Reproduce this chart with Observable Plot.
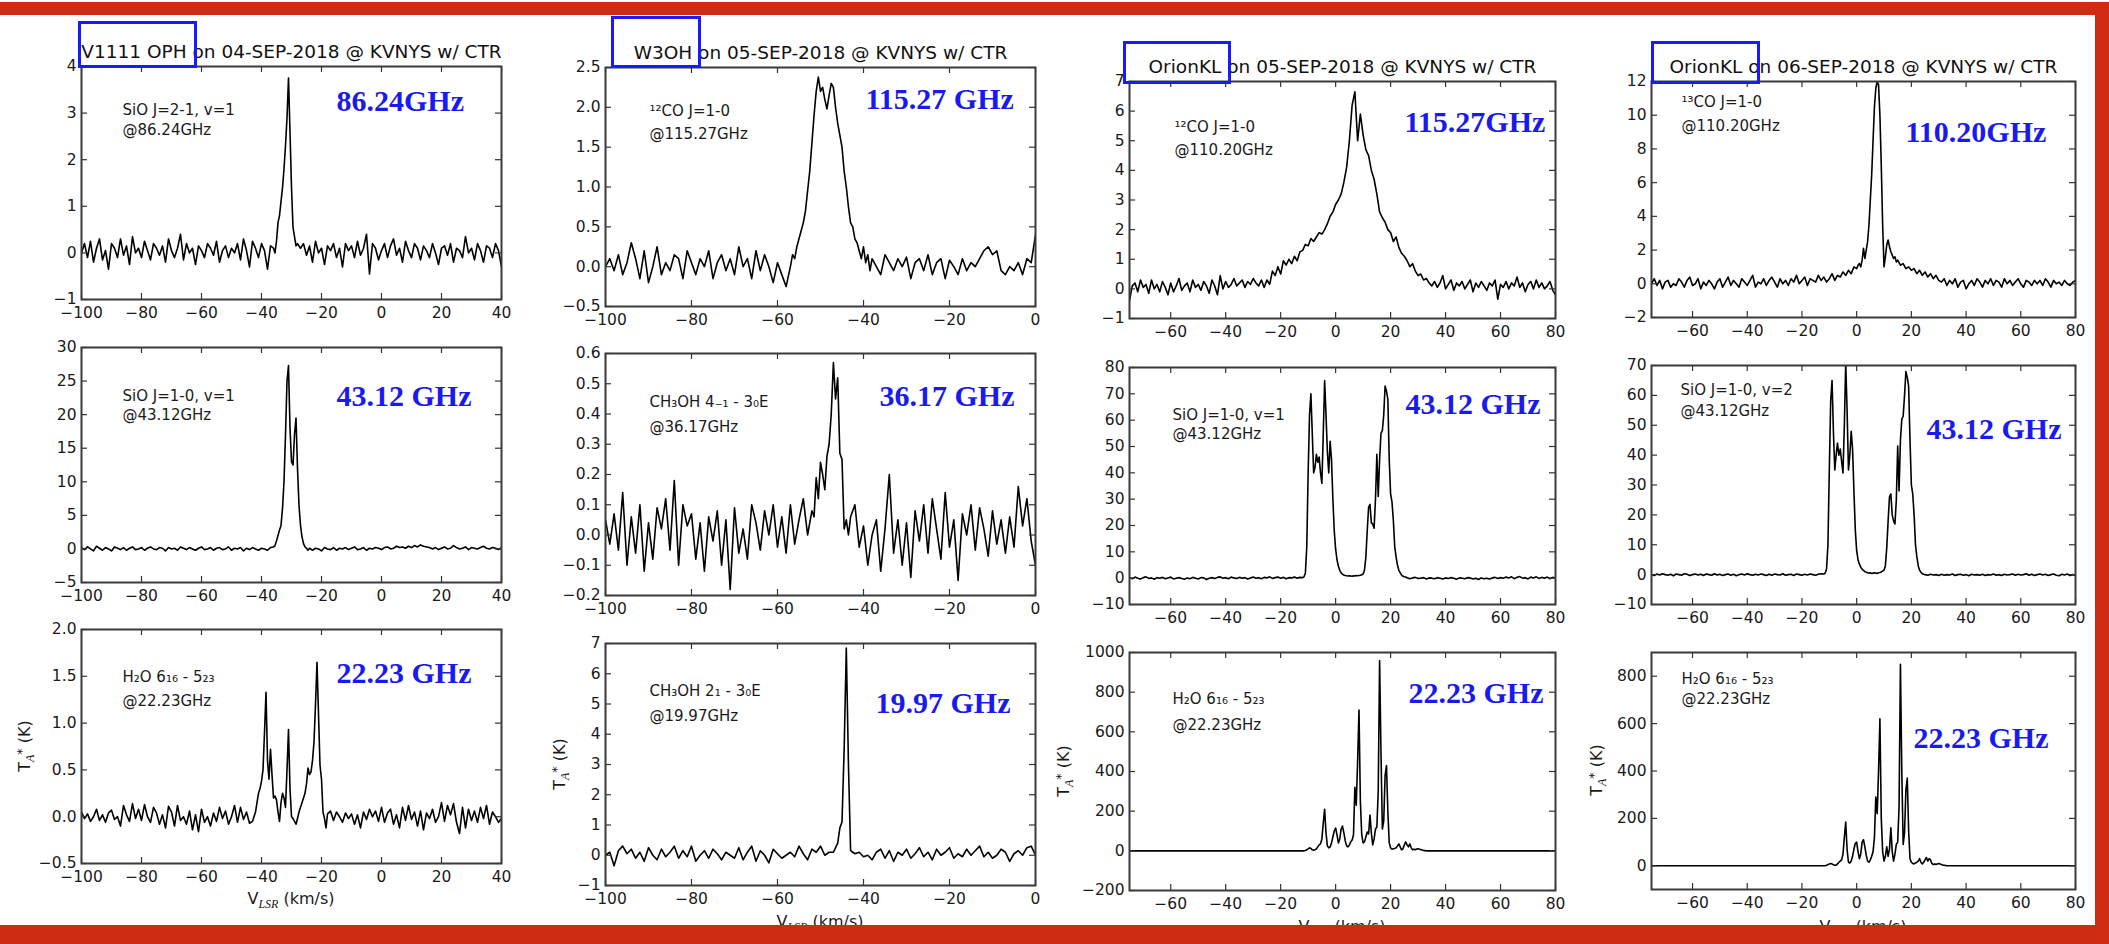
<!DOCTYPE html>
<html><head><meta charset="utf-8">
<script src="https://cdn.jsdelivr.net/npm/d3@7"></script>
<script src="https://cdn.jsdelivr.net/npm/@observablehq/plot@0.6"></script>
<style>
html,body{margin:0;padding:0;background:#fff}
body{width:2109px;height:944px;overflow:hidden;position:relative;font-family:"DejaVu Sans",sans-serif;color:#1a1a1a}
.panel{position:absolute}
.box{position:absolute;border:3px solid #1a1aff;box-sizing:border-box}
.xlab,.ylab{position:absolute;font-size:16px;line-height:16px;white-space:nowrap;color:#1a1a1a}
.xlab{transform:translateX(-50%)}
.ylab{transform:translate(-50%,-50%) rotate(-90deg)}
.xlab sub,.ylab sub{font-family:"Liberation Serif",serif;font-style:italic;font-size:0.75em;vertical-align:-0.3em}
.ylab sup{font-size:0.8em;vertical-align:0.35em}
.red{position:absolute;background:#cf2a12}
</style></head><body>
<div id="root"></div>
<script>
// ---------------- DATA (velocity runs: [start km/s, step km/s, T_A* values]) ----------------
const v1111_SiO86 = [
 [-100, 1, [0.0,0.2,-0.1,0.25,-0.2,0.1,0.3,-0.15,0.05,-0.35, 0.2,0.1,-0.1,0.3,-0.05,0.15,-0.25,0.35,0.0,0.1,
  -0.1,0.25,0.05,-0.15,0.2,0.1,-0.05,0.15,-0.2,0.3, 0.05,-0.1,0.1,0.4,-0.15,0.2,0.0,0.1,-0.25,0.15,
  0.05,-0.1,0.2,0.1,-0.05,0.25,-0.2,0.05,0.15,-0.1, 0.1,0.0,0.2,-0.15,0.3,0.05,-0.3,0.25,0.1,-0.1, 0.2,0.05,-0.35,0.15]],
 [-36, 0.5, [0.1,0.0,0.25,0.65,0.8,1.1,1.4,1.8,2.3,2.9,3.75,2.6,1.4,0.55,0.35,0.15,0.2]],
 [-27, 1, [0.1,0.2,-0.05,0.15,-0.2,0.25,0.0,0.1,-0.25,0.15, 0.05,0.2,-0.1,0.1,-0.3,0.2,0.05,0.15,-0.1,0.25,
  -0.05,0.1,0.4,-0.45,0.2,0.1,-0.15,0.05,0.2,-0.1, 0.15,0.3,-0.05,0.1,-0.2,0.25,0.05,-0.1,0.2,0.1,
  -0.15,0.15,0.05,-0.1,0.2,0.0,-0.25,0.1,0.15,-0.05, 0.2,-0.2,0.1,0.05,-0.1,0.35,0.0,0.1,-0.15,0.2, 0.05,-0.2,0.15,0.1,-0.1,0.2,0.05,-0.3]]
];
const v1111_SiO43 = [
 [-100, 1, [0.2,-0.1,0.3,0.0,-0.3,0.4,0.1,-0.2,0.2,0.0, -0.3,0.3,0.1,-0.1,0.2,-0.2,0.1,0.3,-0.1,0.0,
  0.2,-0.2,0.1,0.3,0.0,-0.1,0.2,0.1,-0.3,0.2, 0.0,0.1,-0.2,0.3,0.1,-0.1,0.2,0.0,-0.2,0.1,
  0.3,-0.1,0.0,0.2,-0.2,0.1,0.2,-0.1,0.0,0.3, -0.2,0.1,0.0,0.2,-0.3,0.1,-0.1,0.2,0.0,-0.2, 0.1,0.0,-0.2,0.2]],
 [-36, 0.5, [0.3,0.5,1.2,2.0,2.8,3.5,6,10,17,25,27.3,18,13,12.5,17,19.5,12,6.5,3.5,1.8,0.8,0.3,0.1,-0.2,0.1]],
 [-23, 1, [-0.2,0.1,0.0,-0.3,0.2,0.0,-0.1,0.2,-0.2,0.1, 0.0,0.2,-0.1,0.1,0.3,-0.1,0.0,0.2,-0.2,0.1,
  0.0,0.2,0.1,-0.1,0.2,0.3,0.0,0.1,0.4,0.2, 0.3,0.1,0.4,0.2,0.5,0.3,0.6,0.4,0.3,0.2,
  0.0,0.2,-0.1,0.1,0.3,0.0,0.1,0.5,0.2,0.0, 0.1,0.3,-0.1,0.2,0.1,0.0,0.2,0.4,0.1,0.0, 0.2,0.1,-0.1,0.2]]
];
const v1111_H2O22 = [
 [-100, 1, [0.05,-0.02,0.03,-0.05,0.0,0.08,-0.04,0.02,-0.06,0.04, 0.07,-0.03,0.0,-0.1,0.12,0.02,-0.05,0.14,-0.02,0.08,
  -0.04,0.13,0.0,-0.06,0.1,0.04,-0.08,0.02,-0.12,0.11, 0.05,-0.1,0.12,-0.04,0.0,-0.08,0.06,-0.14,0.02,-0.16,
  0.08,-0.06,0.0,-0.1,0.04,-0.05,0.1,-0.02,0.06,-0.08, 0.0,0.12,-0.06,0.1,-0.03,0.05,-0.07]],
 [-43, 0.5, [-0.05,0.0,0.05,0.15,0.25,0.3,0.38,0.5,0.9,1.33, 0.6,0.4,0.72,0.45,0.2,0.22,0.18,0.05,-0.05,0.15,
  0.25,0.2,0.1,0.5,0.93,0.3,0.0,-0.02,-0.05,-0.08, -0.02,0.05,0.1,0.15,0.2,0.25,0.35,0.52,0.45,0.48,
  0.6,0.8,1.2,1.65,1.1,0.55,0.4,0.05,-0.02,-0.12, 0.03]],
 [-17, 1, [0.06,-0.04,0.05,0.0,-0.06,0.04,-0.02,0.03,-0.08,0.02, -0.12,0.05,-0.03,0.08,0.0,0.06,-0.05,0.1,-0.06,0.04,
  0.08,-0.08,0.02,-0.12,0.1,-0.04,0.12,-0.03,0.05,-0.1, 0.06,-0.14,0.04,-0.02,0.08,-0.06,0.0,0.15,-0.05,0.12,
  0.02,0.14,-0.06,-0.18,0.1,-0.12,0.08,-0.04,0.06,-0.06, 0.1,-0.02,0.12,-0.08,0.05,0.0,-0.06,-0.02]]
];
const w3oh_CO115 = [
 [-100, 1, [0.0,0.1,-0.05,0.15,-0.1,0.05,0.3,0.1,-0.15,0.2, -0.2,0.0,0.25,-0.1,0.05,-0.05,0.15,0.1,-0.15,0.2,
  0.05,-0.1,0.1,0.0,0.2,-0.15,0.05,0.15,-0.05,0.1, -0.1,0.25,0.0,0.1,-0.15,0.2,-0.05,0.15,0.0,-0.2, 0.05,-0.1,-0.25]],
 [-57, 0.5, [0.0,0.15,0.1,0.25,0.35,0.45,0.55,0.7,0.95,1.2, 1.55,1.9,2.2,2.38,2.2,2.25,2.1,1.98,2.15,2.3,
  2.25,2.0,1.8,1.65,1.5,1.2,1.0,0.75,0.55,0.5, 0.35,0.3,0.2,0.1,0.25,0.05,0.15,-0.05,0.1]],
 [-37, 1, [0.0,-0.1,0.15,0.05,-0.05,0.1,0.0,0.12,-0.15,0.05, 0.1,-0.05,0.15,-0.1,0.05,0.1,-0.15,0.08,0.0,-0.1,
  0.1,-0.05,0.05,0.0,0.1,0.2,0.25,0.15,0.2,-0.05, -0.1,0.0,-0.05,0.05,-0.1,0.1,0.05,0.4]]
];
const w3oh_CH3OH36 = [
 [-100, 1, [0.05,-0.03,0.07,-0.05,0.14,-0.1,0.06,-0.06,0.1,-0.12, 0.04,-0.08,0.09,0.02,0.12,-0.05,0.18,-0.1,0.1,0.03,
  0.07,-0.08,0.04,-0.12,0.06,-0.02,0.08,-0.1,0.05,-0.18, 0.09,-0.06,0.02,-0.08,0.1,0.04,-0.05,0.08,0.0,0.1,
  -0.04,0.06,-0.06,0.1,-0.03,0.05,0.12,0.0]],
 [-52, 0.5, [0.08,0.06,0.19,0.12,0.24,0.2,0.15,0.26,0.3,0.4,0.57,0.45,0.52,0.27,0.25,0.02,0.05,0.0,0.06]],
 [-42, 1, [0.1,-0.04,0.03,-0.1,0.0,0.05,-0.12,0.02,0.2,-0.06, 0.05,-0.1,0.04,-0.14,0.08,-0.02,0.1,-0.06,0.12,0.02,
  -0.08,0.14,-0.04,0.05,-0.15,0.07,0.0,0.1,-0.05,0.09, 0.02,-0.07,0.08,-0.03,0.05,-0.06,0.06,-0.04,0.16,0.03, 0.12,-0.02,-0.1]]
];
const w3oh_CH3OH20 = [
 [-100, 1, [0.0,0.1,-0.35,0.15,0.3,0.05,0.2,-0.1,0.1,-0.2, 0.25,0.0,-0.15,0.2,-0.05,0.1,0.3,-0.1,0.15,-0.05,
  0.3,-0.2,0.0,0.15,-0.1,0.2,0.05,-0.15,0.1,0.0, -0.1,0.25,-0.15,0.1,0.3,-0.2,0.15,0.0,-0.25,0.2,
  0.05,-0.1,0.0,0.1,-0.05,0.3,0.05,-0.15,0.2,0.1, 0.3,0.0,0.1]],
 [-47, 0.5, [0.1,0.25,0.4,0.9,1.1,3.5,6.85,3.0,0.15,0.1,0.05]],
 [-41, 1, [0.1,-0.05,0.0,-0.15,0.1,0.2,-0.1,0.15,-0.2,0.1, 0.0,0.2,-0.1,0.05,0.25,-0.05,0.1,-0.15,0.2,0.0,
  0.1,0.25,-0.1,0.05,-0.05,0.2,0.0,0.15,0.3,-0.05, 0.1,-0.1,0.0,0.2,0.1,-0.2,0.05,0.15,0.0,0.25, 0.3,0.0]]
];
const orion05_CO = [
 [-75, 1, [-0.4,0.1,0.2,-0.1,0.3,0.05,0.15,-0.15,0.3,0.0, 0.15,-0.1,0.25,0.05,-0.2,0.2,-0.1,0.1,0.35,-0.05,
  0.1,0.2,-0.1,0.3,0.05,0.15,-0.05,0.25,0.1,-0.15, 0.3,0.1,-0.2,0.45,0.0,0.25,0.05,0.15,0.35,0.1,
  0.2,0.3,0.05,0.25,0.15,0.35,0.2,0.1,0.3,0.05, 0.3,0.15,0.6,0.45,0.75,0.5,0.95,0.8,1.0,0.85,
  1.1,0.95,1.25,1.3,1.5,1.45,1.7,1.6,1.75,1.9, 1.85,2.0,2.2,2.45,2.6,2.85,3.0,3.2,3.6,4.1,
  5.0,6.2,6.65,5.0,5.9,5.2,4.7,4.5,4.0,3.7, 3.2,2.6,2.4,2.25,2.0,1.9,1.6,1.75,1.4,1.2,
  1.1,0.95,0.75,0.85,0.6,0.45,0.5,0.3,0.35,0.2, 0.1,0.25,0.05,0.2,0.45,0.0,0.15,0.3,-0.05,0.2,
  0.1,0.25,0.0,0.15,0.3,-0.1,0.2,0.05,0.25,0.1, -0.05,0.2,0.1,0.3,-0.35,0.15,0.05,0.25,0.0,0.2,
  0.1,0.4,0.05,0.2,-0.1,0.15,0.25,0.0,0.3,0.05, 0.2,0.0,0.1,0.25,-0.05,-0.2]]
];
const orion05_SiO43 = [
 [-75, 1, [0.3,-0.2,0.4,0.0,-0.3,0.2,0.5,-0.1,0.1,-0.4, 0.2,0.0,0.3,-0.2,0.1,0.4,-0.3,0.0,0.2,-0.1,
  -0.4,0.1,-0.2,0.3,0.0,-0.3,0.2,0.1,-0.5,0.0, 0.2,-0.1,0.3,0.5,0.0,0.2,-0.2,0.4,0.1,-0.1,
  0.3,0.0,0.2,-0.3,0.1,0.4,0.0,0.2,-0.2,0.3, 0.1,0.5,-0.1,0.2,0.4,0.0,0.3,-0.2,0.2,0.1, 0.4,0.0,0.3]],
 [-12, 0.5, [0.2,0.5,2,12,40,62,70,55,40,42, 47,44,46,40,36,55,75,62,48,40, 52,45,30,18,11,7,4.5,3,2,1.5,
  1.2,1.0,0.9,0.8,0.9,0.8,0.7,0.9,0.8,1.0, 0.9,1.0,1.1,1.3,1.6,3,8,18,27,28, 21,20.5,19,30,47,31,45,55,56,62,
  73,71,68,45,32,29,22,12,8,5, 3,2,1.2,0.7,0.5]],
 [26, 1, [0.2,-0.2,0.1,0.3,-0.1,0.0,0.2,-0.3,0.1,0.0, -0.2,0.2,0.0,-0.3,0.1,-0.1,0.2,0.0,-0.4,0.1,
  0.0,-0.2,0.2,0.1,-0.3,0.0,-0.5,0.1,-0.2,0.0, -0.3,0.1,0.3,-0.1,0.2,0.0,0.4,0.1,0.5,-0.2,
  0.3,0.6,0.0,0.2,-0.3,0.4,0.1,0.5,-0.1,0.3, 0.0,0.4,-0.2,0.3,0.1]]
];
const orion05_H2O22 = [
 [-75, 5, [0,0,0,0,0,0,0,0,0,0,0,0,0]],
 [-12, 0.5, [0,0,2,5,10,15,12,5,3,5, 10,20,30,35,60,140,210,90,25,15, 20,40,70,100,115,80,40,60,110,125,
  90,50,25,20,30,45,55,80,320,230, 450,710,250,80,40,45,70,95,85,180, 90,30,60,110,120,300,960,500,110,150,
  380,430,200,40,15,8,10,12,15,25, 35,20,5,10,30,45,30,20,35,15, 5,8,6,9,10,8,6,4,2,1, 0,0,0]],
 [35, 5, [0,0,0,0,0,0,0,0,0,0]]
];
const orion06_13CO = [
 [-75, 1, [0.0,0.3,-0.1,0.2,-0.3,0.1,0.2,-0.2,0.0,-0.1, 0.3,0.1,-0.2,0.2,0.4,-0.1,0.0,0.3,-0.3,0.1,
  -0.1,0.2,0.0,-0.3,0.1,0.3,-0.2,0.1,0.4,-0.1, 0.2,0.0,-0.2,0.3,0.1,-0.1,0.2,0.5,-0.2,0.1,
  0.0,0.3,-0.1,0.2,0.4,0.1,-0.2,0.3,0.0,0.2, -0.1,0.3,0.1,0.5,0.0,0.2,0.4,-0.1,0.3,0.2,
  0.1,0.5,0.2,0.4,0.1,0.3,0.6,0.2,0.5,0.4, 0.7,0.5,0.8,0.6,1.0,0.9]],
 [0.5, 0.5, [1.1,1.2,1.0,1.4,2.1,1.5,2.0,2.5,3.5,5.0, 6.5,8.5,10.5,11.6,12.0,11.8,10.0,7.0,3.5,1.0,
  1.6,2.3,2.6,2.2,1.9,1.7,1.5,1.6,1.3,1.4]],
 [16, 1, [1.1,1.2,0.9,1.0,0.8,0.9,0.6,0.8,0.5,0.7, 0.4,0.6,0.3,0.5,0.2,0.1,0.3,-0.1,0.2,0.0,
  0.3,-0.2,0.1,0.2,-0.3,0.0,0.2,-0.1,0.3,0.1, -0.2,0.2,0.0,0.3,-0.1,0.2,0.1,-0.2,0.3,0.0,
  0.2,-0.1,0.1,0.3,0.0,-0.2,0.2,0.1,-0.1,0.2, 0.0,0.2,-0.1,0.3,0.1,-0.2,0.2,0.0,0.1,-0.1, 0.2,0.0,-0.1,0.1,0.2]]
];
const orion06_SiO43v2 = [
 [-75, 1, [0.0,-0.3,0.2,-0.1,0.3,0.0,-0.2,0.1,-0.4,0.2, 0.0,-0.2,0.3,0.1,-0.3,0.0,0.2,-0.1,0.1,-0.3,
  0.2,0.0,-0.2,0.3,-0.1,0.1,-0.3,0.0,0.2,-0.2, 0.1,-0.4,0.0,0.2,-0.1,0.3,0.0,-0.2,0.1,-0.1,
  0.2,0.0,-0.3,0.1,-0.2,0.2,0.0,-0.1,0.3,-0.2, 0.0,0.1,-0.3,0.2,0.0,-0.2,0.1,-0.1,0.2,0.0, -0.2,0.1,0.3]],
 [-12, 0.5, [0.2,0.5,2,10,35,58,65,48,35,40, 44,40,42,38,34,50,71,55,35,40, 48,42,28,15,8,5,3.5,2.5,1.8,1.4,
  1.0,0.8,0.6,0.5,0.6,0.4,0.5,0.6,0.5,0.4, 0.6,0.7,0.9,1.2,1.5,3,9,18,26,27, 20,18,17,25,43,28,45,52,53,60,
  68,66,63,45,30,27,20,10,6,3, 1.5,0.8,0.3,0.1,0.0]],
 [26, 1, [-0.2,0.1,-0.1,0.0,-0.3,0.1,-0.2,0.0,-0.1,0.2, -0.3,0.0,0.1,-0.2,0.0,-0.4,0.1,-0.1,0.0,-0.2,
  0.1,-0.3,0.0,-0.1,0.2,-0.2,0.0,-0.3,0.1,-0.1, 0.0,0.2,-0.2,0.1,-0.1,0.0,0.3,-0.2,0.1,-0.3,
  0.0,0.2,-0.1,0.1,-0.3,0.0,0.2,-0.2,-0.4,0.1, -0.1,0.2,-0.3,0.0,-0.2]]
];
const orion06_H2O22 = [
 [-75, 5, [0,0,0,0,0,0,0,0,0,0,0,0,0]],
 [-12, 0.5, [0,0,2,5,8,10,8,4,2,3, 8,15,20,25,50,120,185,70,15,12, 20,40,70,95,100,60,30,50,100,110,
  80,45,20,15,25,40,60,120,290,220, 400,620,200,60,20,40,80,40,70,160, 60,20,50,90,100,250,850,400,90,140,
  320,370,150,30,15,10,8,12,15,20, 30,15,8,15,25,35,20,30,25,10, 5,8,6,8,10,8,5,3,2,1, 0,0,0]],
 [35, 5, [0,0,0,0,0,0,0,0,0,0]]
];

// Titles, labels, ticks
const titles = ["V1111 OPH on 04-SEP-2018 @ KVNYS w/ CTR", "W3OH on 05-SEP-2018 @ KVNYS w/ CTR",
  "OrionKL on 05-SEP-2018 @ KVNYS w/ CTR", "OrionKL on 06-SEP-2018 @ KVNYS w/ CTR"];
const lineNames = [
  ["SiO J=2-1, v=1", "@86.24GHz"], ["SiO J=1-0, v=1", "@43.12GHz"], ["H₂O 6₁₆ - 5₂₃", "@22.23GHz"],
  ["¹²CO J=1-0", "@115.27GHz"], ["CH₃OH 4₋₁ - 3₀E", "@36.17GHz"], ["CH₃OH 2₁ - 3₀E", "@19.97GHz"],
  ["¹²CO J=1-0", "@110.20GHz"], ["SiO J=1-0, v=1", "@43.12GHz"], ["H₂O 6₁₆ - 5₂₃", "@22.23GHz"],
  ["¹³CO J=1-0", "@110.20GHz"], ["SiO J=1-0, v=2", "@43.12GHz"], ["H₂O 6₁₆ - 5₂₃", "@22.23GHz"]];
const bandLabels = ["86.24GHz", "43.12 GHz", "22.23 GHz", "115.27 GHz", "36.17 GHz", "19.97 GHz",
  "115.27GHz", "43.12 GHz", "22.23 GHz", "110.20GHz", "43.12 GHz", "22.23 GHz"];
const xDomains = [[-100, 40], [-100, 0], [-75, 80], [-75, 80]];
const xTickSets = [[-100,-80,-60,-40,-20,0,20,40], [-100,-80,-60,-40,-20,0],
  [-60,-40,-20,0,20,40,60,80], [-60,-40,-20,0,20,40,60,80]];
const yDomains = [[-1,4], [-5,30], [-0.5,2], [-0.5,2.5], [-0.2,0.6], [-1,7],
  [-1,7], [-10,80], [-200,1000], [-2,12], [-10,70], [-100,900]];
const yTickSets = [[-1,0,1,2,3,4], [-5,0,5,10,15,20,25,30], [-0.5,0,0.5,1,1.5,2],
  [-0.5,0,0.5,1,1.5,2,2.5], [-0.2,-0.1,0,0.1,0.2,0.3,0.4,0.5,0.6], [-1,0,1,2,3,4,5,6,7],
  [-1,0,1,2,3,4,5,6,7], [-10,0,10,20,30,40,50,60,70,80], [-200,0,200,400,600,800,1000],
  [-2,0,2,4,6,8,10,12], [-10,0,10,20,30,40,50,60,70], [0,200,400,600,800]];
const yFormats = ["d","d",".1f", ".1f",".1f","d", "d","d","d", "d","d","d"];
const spectra = [v1111_SiO86, v1111_SiO43, v1111_H2O22, w3oh_CO115, w3oh_CH3OH36, w3oh_CH3OH20,
  orion05_CO, orion05_SiO43, orion05_H2O22, orion06_13CO, orion06_SiO43v2, orion06_H2O22];

// ---------------- LAYOUT (pixels) ----------------
const frames = [
  {L:81,R:501,T:66,B:299}, {L:81,R:501,T:347,B:582}, {L:81,R:501,T:629,B:863},
  {L:605,R:1035,T:67,B:306}, {L:605,R:1035,T:353,B:595}, {L:605,R:1035,T:643,B:885},
  {L:1129,R:1555,T:81,B:318}, {L:1129,R:1555,T:367,B:604}, {L:1129,R:1555,T:652,B:890},
  {L:1651,R:2075,T:81,B:317}, {L:1651,R:2075,T:365,B:604}, {L:1651,R:2075,T:652,B:889}];
// [name dx, line1 baseline dy, line2 baseline dy, band dx, band baseline dy]
const textPos = [[41,48,68,255,44],[41,53,72,255,58],[41,52,76,255,53],
  [44,48,71,260,41],[44,53,78,274,52],[44,52,77,270,69],
  [45,50,73,275,50],[43,52,71,276,46],[43,51,77,279,50],
  [30,25,49,254,60],[29,29,50,275,73],[30,31,51,262,95]];
const boxes = [[78,21,119,47],[611,16,90,52],[1123,41,108,43],[1651,41,109,43]];
const xLabPos = [[291,891],[820,914],[1342,919],[1863,919]];
const yLabPos = [[26,746],[561,764],[1065,771],[1598,770]];

function expand(runs) {
  const pts = [];
  for (const [v0, dv, ys] of runs) ys.forEach((t, i) => pts.push({v: +(v0 + i * dv).toFixed(3), t}));
  return pts.sort((a, b) => a.v - b.v);
}

const root = document.getElementById("root");
const M = {l: 70, r: 22, t: 40, b: 32};
spectra.forEach((runs, i) => {
  const col = Math.floor(i / 3), row = i % 3;
  const f = frames[i], W = f.R - f.L, H = f.B - f.T;
  const xt = xTickSets[col], yt = yTickSets[i], tp = textPos[i];
  const marks = [
    Plot.line(expand(runs), {x: "v", y: "t", stroke: "#000", strokeWidth: 1.6, clip: true}),
    Plot.tickX(xt, {x: d => d, insetTop: H - 6, stroke: "#333", strokeWidth: 1.2}),
    Plot.tickX(xt, {x: d => d, insetBottom: H - 6, stroke: "#333", strokeWidth: 1.2}),
    Plot.tickY(yt, {y: d => d, insetRight: W - 6, stroke: "#333", strokeWidth: 1.2}),
    Plot.tickY(yt, {y: d => d, insetLeft: W - 6, stroke: "#333", strokeWidth: 1.2}),
    Plot.frame({stroke: "#3a3a3a", strokeWidth: 2}),
    Plot.text([lineNames[i][0]], {text: d => d, frameAnchor: "top-left", textAnchor: "start", lineAnchor: "bottom",
      dx: tp[0], dy: tp[1], fontSize: 15, fill: "#1a1a1a"}),
    Plot.text([lineNames[i][1]], {text: d => d, frameAnchor: "top-left", textAnchor: "start", lineAnchor: "bottom",
      dx: tp[0], dy: tp[2], fontSize: 15, fill: "#1a1a1a"}),
    Plot.text([bandLabels[i]], {text: d => d, frameAnchor: "top-left", textAnchor: "start", lineAnchor: "bottom",
      dx: tp[3], dy: tp[4], fontSize: 30, fontWeight: "bold", fontFamily: "Liberation Serif, serif", fill: "#1a1aee"})
  ];
  if (row === 0) marks.push(Plot.text([titles[col]], {text: d => d, frameAnchor: "top", lineAnchor: "bottom",
    dy: -9, fontSize: 18.5, fill: "#111"}));
  const svg = Plot.plot({
    width: W + M.l + M.r, height: H + M.t + M.b,
    marginLeft: M.l, marginRight: M.r, marginTop: M.t, marginBottom: M.b,
    style: {fontFamily: "DejaVu Sans, sans-serif", fontSize: "15.5px", color: "#1a1a1a", background: "none", overflow: "visible"},
    x: {domain: xDomains[col], ticks: xt, tickFormat: d3.format("d"), tickSize: 0, tickPadding: 7, label: null},
    y: {domain: yDomains[i], ticks: yt, tickFormat: d3.format(yFormats[i]), tickSize: 0, tickPadding: 5, label: null},
    marks
  });
  const wrap = document.createElement("div");
  wrap.className = "panel";
  wrap.style.left = (f.L - M.l) + "px";
  wrap.style.top = (f.T - M.t) + "px";
  wrap.appendChild(svg);
  root.appendChild(wrap);
});

boxes.forEach(([x, y, w, h]) => {
  const d = document.createElement("div");
  d.className = "box";
  Object.assign(d.style, {left: x + "px", top: y + "px", width: w + "px", height: h + "px"});
  root.appendChild(d);
});
xLabPos.forEach(([x, y]) => {
  const d = document.createElement("div");
  d.className = "xlab";
  d.innerHTML = "V<sub>LSR</sub> (km/s)";
  d.style.left = x + "px"; d.style.top = y + "px";
  root.appendChild(d);
});
yLabPos.forEach(([x, y]) => {
  const d = document.createElement("div");
  d.className = "ylab";
  d.innerHTML = "T<sub>A</sub><sup>*</sup> (K)";
  d.style.left = x + "px"; d.style.top = y + "px";
  root.appendChild(d);
});
[[0,2,2109,13],[0,925,2109,19],[2095,2,14,942]].forEach(([x, y, w, h]) => {
  const d = document.createElement("div");
  d.className = "red";
  Object.assign(d.style, {left: x + "px", top: y + "px", width: w + "px", height: h + "px"});
  root.appendChild(d);
});
</script>
</body></html>
